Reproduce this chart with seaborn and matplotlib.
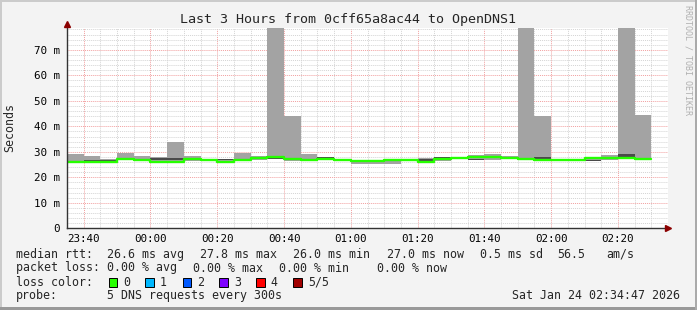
import matplotlib
matplotlib.use("Agg")
import matplotlib.pyplot as plt
import seaborn as sns
import numpy as np
import pandas as pd
from matplotlib.patches import Rectangle
from matplotlib.ticker import MultipleLocator, FixedLocator

# ---------------- data ----------------
bin_start = ["23:35", "23:40", "23:45", "23:50", "23:55",
             "00:00", "00:05", "00:10", "00:15", "00:20", "00:25",
             "00:30", "00:35", "00:40", "00:45", "00:50", "00:55",
             "01:00", "01:05", "01:10", "01:15", "01:20", "01:25",
             "01:30", "01:35", "01:40", "01:45", "01:50", "01:55",
             "02:00", "02:05", "02:10", "02:15", "02:20", "02:25"]

rtt_max = [29.3, 28.3, 27.3, 29.7, 28.3, 27.8, 34.0, 28.3, 27.0, 27.2, 29.7,
           28.3, 95.0, 44.0, 29.3, 28.1, 27.3, 26.9, 26.9, 27.2, 27.2, 27.4,
           28.0, 27.9, 28.7, 29.1, 28.3, 95.0, 44.0, 27.0, 27.0, 27.2, 28.7,
           95.0, 44.4]
rtt_min = [25.8, 25.8, 25.9, 26.6, 26.2, 25.9, 25.9, 26.5, 26.3, 25.9, 26.3,
           26.9, 27.2, 26.5, 26.3, 26.8, 26.6, 25.3, 25.3, 25.3, 26.4, 25.8,
           26.4, 27.2, 26.8, 26.7, 27.2, 26.7, 26.3, 26.3, 26.5, 26.3, 26.9,
           27.2, 27.2]
band_lo = [26.6, 26.5, 26.5, 26.9, 26.6, 26.8, 26.8, 26.9, 26.6, 26.6, 26.7,
           27.3, 27.2, 26.6, 26.4, 27.3, 26.9, 26.3, 26.3, 26.4, 26.8, 26.5,
           27.2, 27.3, 26.8, 26.7, 27.3, 26.7, 26.4, 26.6, 26.7, 26.3, 27.0,
           27.8, 27.2]
band_hi = [26.9, 26.8, 26.9, 27.2, 27.0, 27.4, 27.4, 27.2, 26.9, 27.0, 27.0,
           27.6, 27.5, 26.9, 26.7, 28.0, 27.3, 26.6, 26.6, 26.9, 27.1, 27.2,
           28.0, 27.6, 27.0, 26.9, 27.5, 26.9, 28.0, 26.9, 26.9, 26.8, 27.5,
           29.0, 27.5]
median = [26.0, 26.0, 26.1, 27.0, 26.6, 26.1, 26.1, 27.0, 26.7, 26.1, 26.8,
          27.4, 27.8, 27.2, 26.8, 27.1, 26.9, 26.5, 26.5, 26.7, 26.8, 26.1,
          27.1, 27.5, 27.8, 27.8, 27.5, 27.1, 26.8, 26.8, 26.8, 27.4, 27.7,
          27.4, 27.0]

x_tick_labels = ["23:40", "00:00", "00:20", "00:40", "01:00",
                 "01:20", "01:40", "02:00", "02:20"]
y_tick_values = [0, 10, 20, 30, 40, 50, 60, 70]
y_tick_labels = ["0", "10 m", "20 m", "30 m", "40 m", "50 m", "60 m", "70 m"]

title = "Last 3 Hours from 0cff65a8ac44 to OpenDNS1"
loss_labels = ["0", "1", "2", "3", "4", "5/5"]
loss_colors = ["#26ff00", "#00b8ff", "#0059ff", "#7e00ff", "#ff0000", "#a00000"]

# ---------------- helpers ----------------
T0 = 23 * 60 + 35
BIN = 5


def to_min(s):
    h, m = map(int, s.split(":"))
    v = h * 60 + m
    if h < 12:
        v += 24 * 60
    return v - T0


starts = np.array([to_min(s) for s in bin_start], dtype=float)
tick_pos = [to_min(s) for s in x_tick_labels]

sns.set_style("white")
plt.rcParams["font.family"] = ["DejaVu Sans Mono", "DejaVu Sans"]

W, H = 697, 310
fig = plt.figure(figsize=(W / 100, H / 100), dpi=100)
fig.patch.set_facecolor("#f3f3f3")

L, R, T, B = 67, 668, 28, 228.3
ax = fig.add_axes([L / W, 1 - B / H, (R - L) / W, (B - T) / H])
ax.set_facecolor("white")

# smoke
ax.bar(starts, np.array(rtt_max) - np.array(rtt_min), bottom=rtt_min,
       width=BIN, align="edge", color="#a3a3a3", linewidth=0, zorder=2)
ax.bar(starts, np.array(band_hi) - np.array(band_lo), bottom=band_lo,
       width=BIN, align="edge", color="#4a4a4a", linewidth=0, zorder=3)

# median line
x_ext = list(starts) + [starts[-1] + BIN]
y_ext = list(median) + [median[-1]]
df = pd.DataFrame({"t": x_ext, "rtt": y_ext})
sns.lineplot(data=df, x="t", y="rtt", drawstyle="steps-post", color="#26ff00",
             lw=1.7, ax=ax, estimator=None, zorder=4)

ax.set_xlim(0, 180)
ax.set_ylim(0, (B - T) / 2.55)
ax.set_xlabel("")
ax.set_ylabel("")

# ticks & grid
ax.xaxis.set_major_locator(FixedLocator(tick_pos))
ax.set_xticklabels(x_tick_labels)
ax.xaxis.set_minor_locator(MultipleLocator(5))
ax.yaxis.set_major_locator(FixedLocator(y_tick_values))
ax.set_yticklabels(y_tick_labels)
ax.yaxis.set_minor_locator(MultipleLocator(2))

ax.set_axisbelow(True)
ax.grid(which="minor", color="#d4d4d4", linestyle=(0, (1, 1)), linewidth=0.7)
ax.grid(which="major", color="#f2a0a0", linestyle=(0, (1, 1)), linewidth=0.7)

ax.tick_params(axis="both", which="major", direction="inout", length=4,
               width=0.8, color="#444444", labelsize=7.8, labelcolor="#000000")
ax.tick_params(axis="x", which="major", pad=1.8)
ax.tick_params(axis="y", which="major", pad=3)
ax.tick_params(axis="both", which="minor", direction="inout", length=2,
               width=0.6, color="#666666")

for sp in ["top", "right"]:
    ax.spines[sp].set_visible(False)
for sp in ["left", "bottom"]:
    ax.spines[sp].set_color("#333333")
    ax.spines[sp].set_linewidth(1.0)
    ax.spines[sp].set_zorder(5)

# arrows
ax.plot([1.0], [0], marker=">", transform=ax.transAxes, clip_on=False,
        color="#8b0000", markersize=5, zorder=6)
ax.plot([0], [1.02], marker="^", transform=ax.transAxes, clip_on=False,
        color="#8b0000", markersize=5, zorder=6)


def ftext(x, y, s, **kw):
    fig.text(x / W, 1 - y / H, s, **kw)


ftext(347.5, 19, title, ha="center", va="center", fontsize=9.6)
ftext(10, 128, "Seconds", ha="center", va="center", rotation=90, fontsize=8.4)
ftext(688, 60, "RRDTOOL / TOBI OETIKER", ha="center", va="center",
      rotation=270, fontsize=6, color="#b0b0b0")

FS = 8.4
row1, row2, row3, row4 = 254.3, 268, 282.3, 295.7
ftext(16, row1, "median rtt:", va="center", fontsize=FS)
for x, s in [(107, "26.6 ms avg"), (200, "27.8 ms max"), (293, "26.0 ms min"),
             (386.7, "27.0 ms now"), (480, "0.5 ms sd"), (557, "56.5"),
             (606.7, "am/s")]:
    ftext(x, row1, s, va="center", fontsize=FS)

ftext(16, row2, "packet loss:", va="center", fontsize=FS)
for x, s in [(107, "0.00 % avg"), (193, "0.00 % max"), (279, "0.00 % min"),
             (376.7, "0.00 % now")]:
    ftext(x, row2, s, va="center", fontsize=FS)

ftext(16, row3, "loss color:", va="center", fontsize=FS)
sq_x = [108.7, 145.3, 182.7, 219.3, 256.0, 293.3]
sq = 8.7
for x, lab, col in zip(sq_x, loss_labels, loss_colors):
    fig.patches.append(Rectangle((x / W, 1 - (row3 + sq / 2) / H), sq / W, sq / H,
                                 transform=fig.transFigure, facecolor=col,
                                 edgecolor="black", linewidth=0.7))
    ftext(x + 14.5, row3, lab, va="center", fontsize=FS)

ftext(16, row4, "probe:", va="center", fontsize=FS)
ftext(107, row4, "5 DNS requests every 300s", va="center", fontsize=FS)
ftext(680, row4, "Sat Jan 24 02:34:47 2026", ha="right", va="center", fontsize=FS)

# 3D border
bw = 2
fig.patches.append(Rectangle((0, 1 - bw / H), 1, bw / H, transform=fig.transFigure,
                             facecolor="#cbcbcb", edgecolor="none"))
fig.patches.append(Rectangle((0, 0), bw / W, 1, transform=fig.transFigure,
                             facecolor="#cbcbcb", edgecolor="none"))
fig.patches.append(Rectangle((0, 0), 1, 3 / H, transform=fig.transFigure,
                             facecolor="#999999", edgecolor="none"))
fig.patches.append(Rectangle((1 - bw / W, 0), bw / W, 1, transform=fig.transFigure,
                             facecolor="#aaaaaa", edgecolor="none"))

fig.savefig("out.png", dpi=100, facecolor=fig.get_facecolor())
